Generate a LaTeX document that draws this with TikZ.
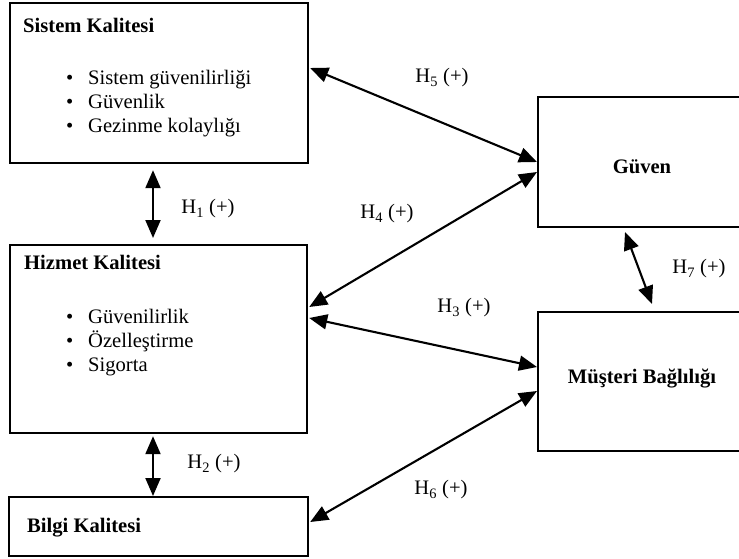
\documentclass[tikz,border=0pt]{standalone}
\usepackage{fontspec}
\setmainfont{Liberation Serif}
\usetikzlibrary{arrows.meta}
\begin{document}
\begin{tikzpicture}[x=1pt,y=-1pt,
  box/.style={draw,line width=2.2pt,rectangle,inner sep=0pt,anchor=north west},
  ttl/.style={anchor=base west,inner sep=0pt,font=\fontsize{20.6}{24}\selectfont\bfseries},
  ctl/.style={anchor=base,inner sep=0pt,font=\fontsize{20.6}{24}\selectfont\bfseries},
  itm/.style={anchor=base west,inner sep=0pt,font=\fontsize{20.6}{24}\selectfont},
  hl/.style={inner sep=0pt,font=\fontsize{20.6}{24}\selectfont},
  dbl/.style={line width=2.1pt,{Triangle[length=18pt,width=15pt]}-{Triangle[length=18pt,width=15pt]}}]
\useasboundingbox (0,0) rectangle (739,559);
\clip (0,0) rectangle (739,559);
% boxes
\node[box,minimum width=298pt,minimum height=160pt] (sis) at (9,2) {};
\node[box,minimum width=297pt,minimum height=188pt] (hiz) at (9,244) {};
\node[box,minimum width=299pt,minimum height=59pt] (bil) at (8,496) {};
\node[box,minimum width=240pt,minimum height=130pt] (guv) at (537,96) {};
\node[box,minimum width=240pt,minimum height=139pt] (mus) at (537,311) {};
% texts
\node[ttl] (sist) at (23,33) {Sistem Kalitesi};
\node[itm] (sb1) at (66,85) {•};
\node[itm] (sb2) at (66,109) {•};
\node[itm] (sb3) at (66,133) {•};
\node[itm] (si1) at (88,85) {Sistem güvenilirliği};
\node[itm] (si2) at (88,109) {Güvenlik};
\node[itm] (si3) at (88,133) {Gezinme kolaylığı};
\node[ttl] (hizt) at (24,269) {Hizmet Kalitesi};
\node[itm] (hb1) at (66,323) {•};
\node[itm] (hb2) at (66,347) {•};
\node[itm] (hb3) at (66,371) {•};
\node[itm] (hi1) at (88,323) {Güvenilirlik};
\node[itm] (hi2) at (88,347) {Özelleştirme};
\node[itm] (hi3) at (88,371) {Sigorta};
\node[ttl] (bilt) at (27,532) {Bilgi Kalitesi};
\node[ctl] (guvt) at (642,174) {Güven};
\node[ctl] (must) at (642,383) {Müşteri Bağlılığı};
% labels
\node[hl] (l1) at (208,209) {H\textsubscript{1} (+)};
\node[hl] (l2) at (214,464) {H\textsubscript{2} (+)};
\node[hl] (l3) at (464,308) {H\textsubscript{3} (+)};
\node[hl] (l4) at (387,214) {H\textsubscript{4} (+)};
\node[hl] (l5) at (442,78) {H\textsubscript{5} (+)};
\node[hl] (l6) at (441,490) {H\textsubscript{6} (+)};
\node[hl] (l7) at (699,269) {H\textsubscript{7} (+)};
% connector end points on the boxes
\coordinate (a1) at (sis.south -| 153,0);
\coordinate (b1) at (hiz.north -| 153,0);
\coordinate (a2) at (hiz.south -| 153,0);
\coordinate (b2) at (bil.north -| 153,0);
\coordinate (a5) at (sis.east |- 0,68);
\coordinate (b5) at (guv.west |- 0,162);
\coordinate (a4) at (guv.west |- 0,172);
\coordinate (b4) at (hiz.east |- 0,307);
\coordinate (a3) at (hiz.east |- 0,318);
\coordinate (b3) at (mus.west |- 0,367);
\coordinate (a6) at (bil.east |- 0,522);
\coordinate (b6) at (mus.west |- 0,391);
\coordinate (a7) at (625,232);
\coordinate (b7) at (652,304);
% connectors
\draw[dbl] ([yshift=-6pt]a1) -- ([yshift=6pt]b1);
\draw[dbl] ([yshift=-2pt]a2) -- (b2);
\draw[dbl] ([xshift=1pt]a5) -- (b5);
\draw[dbl] (a4) -- ([xshift=1pt]b4);
\draw[dbl] ([xshift=1pt]a3) -- (b3);
\draw[dbl] ([xshift=1pt]a6) -- (b6);
\draw[dbl] (a7) -- (b7);
\end{tikzpicture}
\end{document}
